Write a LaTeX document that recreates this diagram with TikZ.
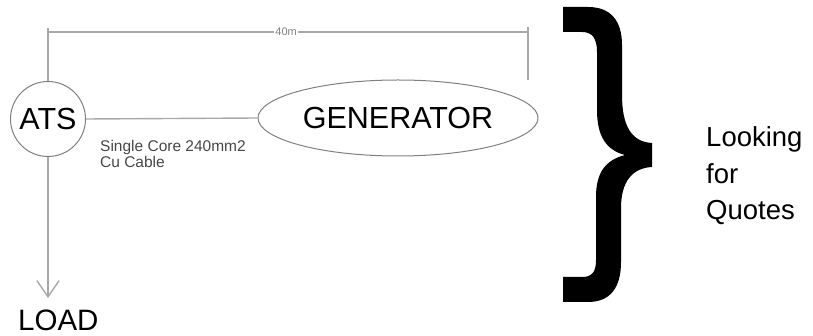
\documentclass[tikz,border=0pt]{standalone}
\usepackage{fontspec}
\setmainfont{Liberation Sans}
\usetikzlibrary{arrows.meta,shapes.geometric}
\definecolor{lnc}{gray}{0.66}
\definecolor{olc}{gray}{0.5}
\definecolor{lbc}{gray}{0.28}
\tikzset{
  wire/.style={draw=lnc, line width=1.4pt},
  bigtxt/.style={font=\fontsize{30.5}{36}\selectfont, text=black},
  outl/.style={draw=olc, line width=1pt, inner sep=0pt},
}
\begin{document}
\begin{tikzpicture}[x=1pt,y=-1pt]
\useasboundingbox (0,0) rectangle (813,336);
% nodes
\node[outl, circle, minimum size=75pt, bigtxt] (ats) at (48,119) {ATS};
\node[outl, ellipse, minimum width=280pt, minimum height=76pt, bigtxt] (gen) at (398,118) {GENERATOR};
\node[anchor=base west, inner sep=0pt, font=\fontsize{15.5}{16}\selectfont, text=lbc] (lab1) at (100,151.7) {Single Core 240mm2};
\node[anchor=base west, inner sep=0pt, font=\fontsize{15.5}{16}\selectfont, text=lbc] (lab2) at (100,167.5) {Cu Cable};
\node[anchor=base west, inner sep=0pt, font=\fontsize{29.5}{34}\selectfont] (load) at (18,330.5) {LOAD};
% dimension
\coordinate (dl) at (48,28);
\coordinate (dlm) at (48,32);
\coordinate (dr) at (528,27);
\coordinate (drm) at (528,32);
\coordinate (drb) at (528,80);
\coordinate (tip) at (48,298);
\draw[wire] (dl) -- (ats.north);
\draw[wire] (dr) -- (drb);
\draw[wire] (dlm) -- (drm) node[pos=0.496, fill=white, inner sep=1pt, text=gray, font=\fontsize{11}{12}\selectfont] (dim) {40m};
% cable
\draw[wire] (ats.east) -- (gen.west);
% load arrow
\draw[wire, -{Straight Barb[length=16pt,width=22pt,line width=1.4pt]}] (ats.south) -- (tip);
% brace
\fill[black] (563,7) -- (588,7) .. controls (610,7) and (622,20) .. (622,45)
  -- (622,95) .. controls (622,125) and (631,142) .. (652,143)
  -- (652,167) .. controls (632,168) and (621,182) .. (621,208)
  -- (621,262) .. controls (621,288) and (610,302) .. (588,302)
  -- (563,302) -- (563,277) -- (582,277) .. controls (592,277) and (596,272) .. (596,260)
  -- (596,197) .. controls (596,172) and (606,160) .. (625,155)
  .. controls (606,150) and (597,136) .. (597,110)
  -- (597,52) .. controls (597,38) and (592,32) .. (582,32)
  -- (563,32) -- cycle;
% side text
\node[anchor=base west, inner sep=0pt, font=\fontsize{27.5}{33}\selectfont] (q1) at (706,146.7) {Looking};
\node[anchor=base west, inner sep=0pt, font=\fontsize{27.5}{33}\selectfont] (q2) at (706,183.3) {for};
\node[anchor=base west, inner sep=0pt, font=\fontsize{27.5}{33}\selectfont] (q3) at (706,220) {Quotes};
\end{tikzpicture}
\end{document}
